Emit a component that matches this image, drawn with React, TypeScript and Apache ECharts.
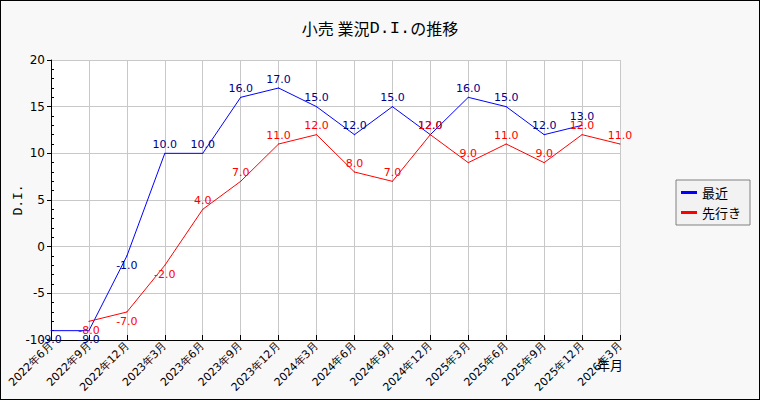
import React, { useEffect, useRef } from 'react';
import * as echarts from 'echarts';

const categories = [
    '2022年6月', '2022年9月', '2022年12月', '2023年3月', '2023年6月', '2023年9月',
    '2023年12月', '2024年3月', '2024年6月', '2024年9月', '2024年12月', '2025年3月',
    '2025年6月', '2025年9月', '2025年12月', '2026年3月'
];
const recent = [-9, -9, -1, 10, 10, 16, 17, 15, 12, 15, 12, 16, 15, 12, 13, null];
const outlook = [null, -8, -7, -2, 4, 7, 11, 12, 8, 7, 12, 9, 11, 9, 12, 11];

const font = 'DejaVu Sans, sans-serif';
const cjk = '"Noto Sans CJK JP", sans-serif';
const mono = '"Liberation Mono", monospace';

// negative values get their label below the point
const withLabels = (vals: (number | null)[]) =>
    vals.map(v => (v !== null && v < 0 ? { value: v, label: { position: 'bottom' } } : v));

const App: React.FC = () => {
    const chartRef = useRef<HTMLDivElement>(null);

    useEffect(() => {
        document.body.style.margin = '0';
        if (!chartRef.current) return;

        const myChart = echarts.init(chartRef.current, null, { renderer: 'svg' });

        const lineSeries = (name: string, vals: (number | null)[], color: string, labelColor: string) => ({
            name,
            type: 'line',
            data: withLabels(vals),
            symbol: 'circle',
            symbolSize: 1,
            showSymbol: true,
            lineStyle: { color, width: 1 },
            itemStyle: { color },
            label: {
                show: true,
                position: 'top',
                distance: 3,
                color: labelColor,
                fontFamily: font,
                fontSize: 11,
                formatter: (p: any) => Number(p.value).toFixed(1)
            },
            emphasis: { disabled: true }
        });

        const option: any = {
            animation: false,
            backgroundColor: '#f8f8f8',
            title: {
                text: '{a|小売 業況}{m|D.I.}{a|の推移}',
                left: 'center',
                top: 11,
                textStyle: {
                    fontWeight: 'normal',
                    rich: {
                        a: { fontFamily: cjk, fontSize: 16, fontWeight: 'normal', color: '#000', lineHeight: 22 },
                        m: { fontFamily: mono, fontSize: 17, fontWeight: 'normal', color: '#000', lineHeight: 22 }
                    }
                }
            },
            legend: {
                orient: 'vertical',
                left: 675,
                top: 179,
                backgroundColor: '#f2f2f2',
                borderColor: '#808080',
                borderWidth: 1,
                borderRadius: 0,
                padding: [6, 9, 6, 5],
                itemWidth: 16,
                itemHeight: 3,
                itemGap: 7,
                icon: 'rect',
                textStyle: { fontFamily: cjk, fontSize: 13, color: '#000' },
                data: ['最近', '先行き']
            },
            grid: {
                left: 50, right: 139, top: 59, bottom: 59,
                outerBoundsMode: 'none',
                containLabel: false,
                show: true, backgroundColor: '#fff', borderWidth: 0
            },
            xAxis: {
                type: 'category',
                data: categories,
                boundaryGap: false,
                name: '年月',
                nameLocation: 'end',
                nameGap: -23,
                nameMoveOverlap: false,
                nameTextStyle: {
                    fontFamily: cjk, fontSize: 13, color: '#000',
                    verticalAlign: 'top', padding: [18, 0, 0, 0]
                },
                axisLine: { onZero: false, lineStyle: { color: '#000', width: 1 } },
                axisTick: { inside: true, length: 5, lineStyle: { color: '#000' } },
                axisLabel: {
                    rotate: 45,
                    interval: 0,
                    fontFamily: font,
                    fontSize: 11,
                    color: '#000',
                    margin: 4
                },
                splitLine: { show: true, lineStyle: { color: '#c8c8c8', width: 1 } }
            },
            yAxis: {
                type: 'value',
                min: -10,
                max: 20,
                interval: 5,
                name: 'D.I.',
                nameLocation: 'middle',
                nameGap: 26,
                nameMoveOverlap: false,
                nameTextStyle: { fontFamily: mono, fontSize: 13, color: '#000' },
                axisLine: { show: true, lineStyle: { color: '#000', width: 1 } },
                axisTick: { show: true, length: 4, lineStyle: { color: '#000' } },
                minorTick: { show: true, splitNumber: 5, length: -3, lineStyle: { color: '#000' } },
                axisLabel: { fontFamily: font, fontSize: 12, color: '#000', margin: 6 },
                splitLine: { show: true, lineStyle: { color: '#c8c8c8', width: 1 } }
            },
            series: [
                lineSeries('最近', recent, '#0000ff', '#00008b'),
                lineSeries('先行き', outlook, '#ff0000', '#ff0000')
            ]
        };

        myChart.setOption(option);

        return () => {
            myChart.dispose();
        };
    }, []);

    return (
        <div
            style={{
                width: '760px',
                height: '400px',
                border: '1px solid #000',
                boxSizing: 'border-box',
                overflow: 'hidden'
            }}
        >
            <div ref={chartRef} style={{ width: '758px', height: '398px' }} />
        </div>
    );
};

export default App;
